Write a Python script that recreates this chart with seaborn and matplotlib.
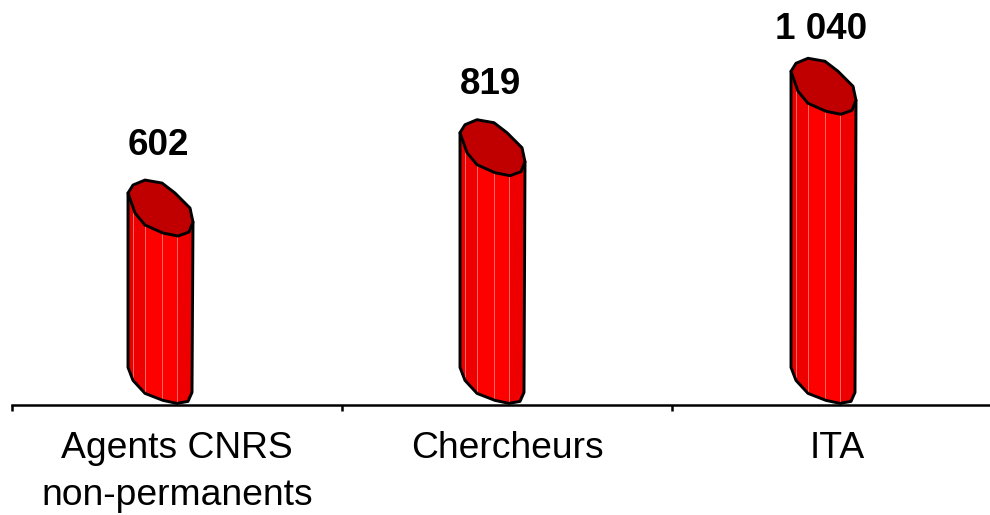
import numpy as np
import matplotlib
matplotlib.use("Agg")
import matplotlib.pyplot as plt
from matplotlib.patches import Polygon
from matplotlib.ticker import FixedLocator
import seaborn as sns

categories = ["Agents CNRS\nnon-permanents", "Chercheurs", "ITA"]
values = [602, 819, 1040]

# Shape of the drawn cylinder, in pixels relative to each bar's left edge / top / base
PX_PER_CAT = 330.0
PX_PER_UNIT = 0.278
ZERO_PX = 375.4
AXIS_PX = 405
BAR_SHIFT = [-17, -15, -14]
LABEL_LIFT = [63, 63, 57]
TOP_RING = [(0, -15), (5, -23), (17, -28), (34, -25), (47, -15), (62, 0), (65, 14),
            (61, 24), (50, 28), (35, 25), (17, 17), (7, 5)]
FRONT_X = [0, 7, 17, 35, 50, 61, 65]
FRONT_Y = [-15, 5, 17, 25, 28, 24, 14]
BASE_X = [0, 5, 17, 35, 49, 60, 64]
BASE_Y = [-8, 5, 18, 25, 28, 26, 17]   # below the zero level
FACETS = [0, 5, 17, 34, 49, 64]
FACET_COL = ["#E60000", "#EE0000", "#FF0000", "#FF0000", "#EE0000"]

sns.set_theme(style="white")
plt.rcParams["font.family"] = ["Liberation Sans", "DejaVu Sans"]

fig = plt.figure(figsize=(9.9, 5.15), dpi=100)
ax = fig.add_axes([12 / 990, 110 / 515, 1.0, AXIS_PX / 515])

sns.barplot(x=categories, y=values, color="#FF0000", width=64 / PX_PER_CAT,
            saturation=1, errorbar=None, ax=ax, zorder=1)

ax.set_xlim(-0.5, 2.5)
ax.set_ylim(-(AXIS_PX - ZERO_PX) / PX_PER_UNIT, ZERO_PX / PX_PER_UNIT)

def dx(px):
    return np.asarray(px, float) / PX_PER_CAT

def dy(px):
    return np.asarray(px, float) / PX_PER_UNIT

for bar, v, shift, lift in zip(ax.patches, values, BAR_SHIFT, LABEL_LIFT):
    bar.set_x(bar.get_x() + shift / PX_PER_CAT)
    left = bar.get_x()
    h = bar.get_height()
    # facets of the body
    for i, col in enumerate(FACET_COL):
        xs = np.linspace(FACETS[i], FACETS[i + 1], 6)
        top = np.interp(xs, FRONT_X, FRONT_Y)
        low = np.interp(xs, BASE_X, BASE_Y)
        pts = np.r_[np.c_[left + dx(xs), h - dy(top)],
                    np.c_[left + dx(xs[::-1]), -dy(low[::-1])]]
        ax.add_patch(Polygon(pts, closed=True, fc=col, ec="none", zorder=2))
        if i:
            ax.plot([left + dx(FACETS[i])] * 2,
                    [h - dy(np.interp(FACETS[i], FRONT_X, FRONT_Y)),
                     -dy(np.interp(FACETS[i], BASE_X, BASE_Y))],
                    color="#FF6A6A", lw=0.7, zorder=3)
    # outline of the side and base
    ox = np.r_[0, BASE_X, 65]
    oy = np.r_[h - dy(-15), -dy(BASE_Y), h - dy(14)]
    ax.plot(left + dx(ox), oy, color="black", lw=2.1, zorder=4, solid_joinstyle="round")
    # slanted top cap
    ring = np.array(TOP_RING, float)
    ax.add_patch(Polygon(np.c_[left + dx(ring[:, 0]), h - dy(ring[:, 1])], closed=True,
                         fc="#C00000", ec="black", lw=2.1, zorder=5, joinstyle="round"))
    ax.text(left + dx(30), h + dy(lift), f"{v:,}".replace(",", " "), ha="center", va="center",
            fontsize=26.5, fontweight="bold", color="black", zorder=6)

for s in ["left", "right", "top"]:
    ax.spines[s].set_visible(False)
ax.spines["bottom"].set_linewidth(1.8)
ax.spines["bottom"].set_color("black")
ax.spines["bottom"].set_zorder(7)
ax.set_yticks([])
ax.xaxis.set_minor_locator(FixedLocator([-0.5, 0.5, 1.5, 2.5]))
ax.tick_params(axis="x", which="minor", bottom=True, length=4, width=1.8, color="black")
ax.tick_params(axis="x", which="major", bottom=False, length=0, pad=19)
for lab in ax.get_xticklabels():
    lab.set_fontsize(26.8)
    lab.set_color("black")
    lab.set_linespacing(1.42)

fig.savefig("out.png", dpi=100)
